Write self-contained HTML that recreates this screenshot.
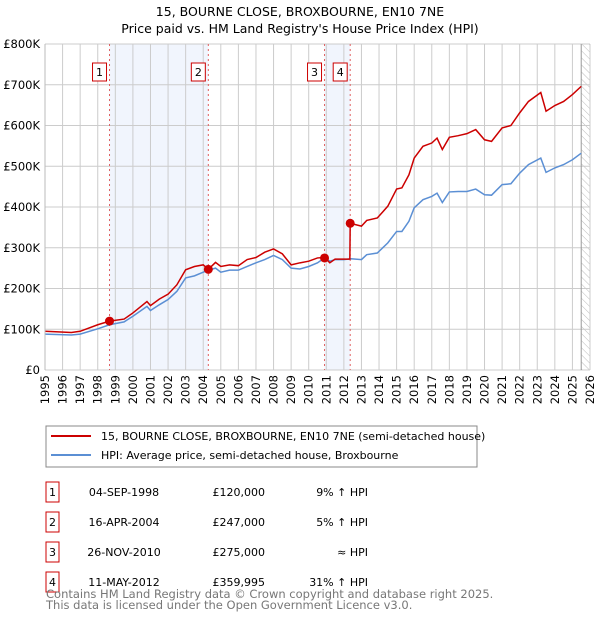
<!DOCTYPE html>
<html><head><meta charset="utf-8"><style>
body{margin:0;background:#fff;font-family:"Liberation Sans","DejaVu Sans",sans-serif;}
svg text{font-family:"DejaVu Sans","Liberation Sans",sans-serif;}
</style></head><body>
<svg id="c" width="600" height="620" xmlns="http://www.w3.org/2000/svg">
<defs><pattern id="hatch" width="5" height="5" patternUnits="userSpaceOnUse" patternTransform="rotate(-45)"><line x1="0" y1="0" x2="0" y2="5" stroke="#bbb" stroke-width="1"/></pattern></defs>
<text x="300" y="16" text-anchor="middle" font-size="12.5" fill="#000">15, BOURNE CLOSE, BROXBOURNE, EN10 7NE</text>
<text x="300" y="33" text-anchor="middle" font-size="12.5" fill="#000">Price paid vs. HM Land Registry's House Price Index (HPI)</text>
<g id="plot"></g>
<rect x="46" y="426" width="431" height="41" fill="#fff" stroke="#888"/>
<line x1="51" y1="436" x2="91" y2="436" stroke="#cc0000" stroke-width="2"/>
<text x="101" y="440" font-size="11">15, BOURNE CLOSE, BROXBOURNE, EN10 7NE (semi-detached house)</text>
<line x1="51" y1="455" x2="91" y2="455" stroke="#5b8fd4" stroke-width="2"/>
<text x="101" y="459" font-size="11">HPI: Average price, semi-detached house, Broxbourne</text>
<g id="table" font-size="11"></g>
<text x="46" y="598" font-size="11.5" fill="#777">Contains HM Land Registry data © Crown copyright and database right 2025.</text>
<text x="46" y="609" font-size="11.5" fill="#777">This data is licensed under the Open Government Licence v3.0.</text>
</svg>
<script>
const hpiYears=[1995,1996.5,1997,1998,1998.67,1999.5,2000,2000.8,2001,2001.5,2002,2002.5,2003,2003.5,2004,2004.3,2004.7,2005,2005.5,2006,2006.5,2007,2007.5,2008,2008.5,2009,2009.5,2010,2010.5,2010.9,2011.2,2011.5,2012,2012.4,2013,2013.3,2013.9,2014.5,2015,2015.3,2015.7,2016,2016.5,2017,2017.3,2017.6,2018,2018.5,2019,2019.5,2020,2020.4,2021,2021.5,2022,2022.5,2023.2,2023.5,2024,2024.5,2025,2025.5];
const hpiValues=[88,86,88,101,111,118,132,156,146,160,173,193,226,231,240,245,250,240,245,245,254,263,271,281,271,250,248,254,263,275,267,271,271,273,271,283,287,312,340,340,365,398,418,426,434,411,437,438,438,444,430,429,455,457,483,504,520,485,496,504,516,532];
const priceYears=[1995,1996.5,1997,1998,1998.67,1999.5,2000,2000.8,2001,2001.5,2002,2002.5,2003,2003.5,2004,2004.29,2004.7,2005,2005.5,2006,2006.5,2007,2007.5,2008,2008.5,2009,2009.5,2010,2010.5,2010.9,2011.2,2011.5,2012,2012.34,2012.36,2013,2013.3,2013.9,2014.5,2015,2015.3,2015.7,2016,2016.5,2017,2017.3,2017.6,2018,2018.5,2019,2019.5,2020,2020.4,2021,2021.5,2022,2022.5,2023.2,2023.5,2024,2024.5,2025,2025.5];
const priceValues=[95,92,95,111,120,125,140,168,158,174,186,209,246,254,258,247,264,254,258,256,271,276,289,297,285,258,263,267,275,276,263,272,272,272,360,353,367,373,402,444,447,479,520,549,557,569,541,571,575,580,590,565,561,594,600,631,659,681,635,649,659,676,696];
const saleNums=["1","2","3","4"];
const saleYears=[1998.67,2004.29,2010.9,2012.36];
const saleValues=[120,247,275,359.995];
const saleDates=["04-SEP-1998","16-APR-2004","26-NOV-2010","11-MAY-2012"];
const salePrices=["£120,000","£247,000","£275,000","£359,995"];
const saleHpi=["9% ↑ HPI","5% ↑ HPI","≈ HPI","31% ↑ HPI"];
const yTicks=[0,100,200,300,400,500,600,700,800];
const yTickLabels=["£0","£100K","£200K","£300K","£400K","£500K","£600K","£700K","£800K"];
const xTicks=[1995,1996,1997,1998,1999,2000,2001,2002,2003,2004,2005,2006,2007,2008,2009,2010,2011,2012,2013,2014,2015,2016,2017,2018,2019,2020,2021,2022,2023,2024,2025,2026];
const L=45,R=590,T=44,B=370;
const x=v=>L+(v-1995)/(2026-1995)*(R-L);
const y=v=>B-v/800*(B-T);
const NS="http://www.w3.org/2000/svg";
const plot=document.getElementById('plot');
function mk(tag,attrs,parent){const e=document.createElementNS(NS,tag);for(const k in attrs)e.setAttribute(k,attrs[k]);(parent||plot).appendChild(e);return e;}
for(let i=0;i<saleYears.length;i+=2){
 const r=mk('rect',{x:x(saleYears[i]),y:T,width:x(saleYears[i+1])-x(saleYears[i]),height:B-T,fill:'#eef3fc',opacity:0.8});
 
 
}
const h=mk('rect',{x:x(2025.5),y:T,width:R-x(2025.5),height:B-T,fill:'url(#hatch)'});


xTicks.forEach(t=>{
 const g=mk('line',{x1:x(t),x2:x(t),y1:T,y2:B,stroke:'#ccc','stroke-width':1});
 
 
 const tx=mk('text',{x:0,y:0,'font-size':11.5,'text-anchor':'end',transform:`translate(${x(t)+4},375) rotate(-90)`});
 tx.textContent=t;
 
 
});
yTicks.forEach((t,i)=>{
 const g=mk('line',{x1:L,x2:R,y1:y(t),y2:y(t),stroke:'#ccc','stroke-width':1});
 
 
 const tx=mk('text',{x:40,y:y(t)+4,'font-size':11.5,'text-anchor':'end'});
 tx.textContent=yTickLabels[i];
 
 
});
const vl=mk('line',{x1:x(2025.5),x2:x(2025.5),y1:T,y2:B,stroke:'#999','stroke-width':1});


saleYears.forEach((s,i)=>{
 const l=mk('line',{x1:x(s),x2:x(s),y1:T,y2:B,stroke:'#e06060','stroke-width':1,'stroke-dasharray':'2,3'});
 
 
 const b=mk('rect',{x:x(s)-17,y:63,width:14,height:18,fill:'#fff',stroke:'#cc0000'});
 
 
 const t=mk('text',{x:x(s)-10,y:76,'font-size':11,'text-anchor':'middle'});
 t.textContent=saleNums[i];
 
 
});
const hp=mk('polyline',{points:hpiYears.map((v,i)=>x(v)+','+y(hpiValues[i])).join(' '),fill:'none',stroke:'#5b8fd4','stroke-width':1.5});


const pp=mk('polyline',{points:priceYears.map((v,i)=>x(v)+','+y(priceValues[i])).join(' '),fill:'none',stroke:'#cc0000','stroke-width':1.5});


saleYears.forEach((s,i)=>{
 const c=mk('circle',{cx:x(s),cy:y(saleValues[i]),r:4.5,fill:'#cc0000'});
 
 
});
const ax=mk('line',{x1:L,x2:L,y1:T,y2:B,stroke:'#bbb'});


const tb=document.getElementById('table');
saleNums.forEach((n,i)=>{
 const yy=492+i*30;
 const b=mk('rect',{x:46,y:yy-10,width:13,height:20,fill:'#fff',stroke:'#cc0000'},tb);
 
 
 const cells=[[52.5,n,'middle','table-number'],[124,saleDates[i],'middle','table-date'],[265,salePrices[i],'end','table-price'],[368,saleHpi[i],'end','table-hpi-change']];
 cells.forEach(c=>{
  const t=mk('text',{x:c[0],y:yy+4,'text-anchor':c[2]},tb);
  t.textContent=c[1];
  
  
 });
});
</script>
</body></html>
